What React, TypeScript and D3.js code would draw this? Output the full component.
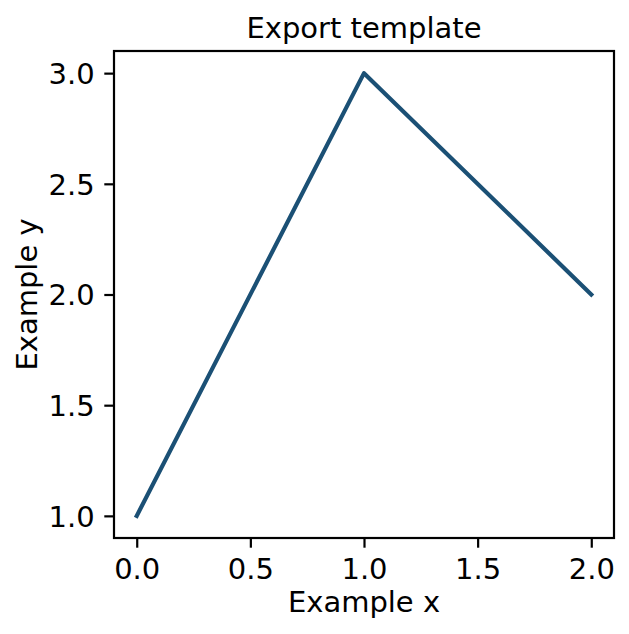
import { useEffect, useRef } from 'react';
import * as d3 from 'd3';

const xValues = [0, 1, 2];
const yValues = [1, 3, 2];
const xTicks = [0, 0.5, 1, 1.5, 2];
const yTicks = [1, 1.5, 2, 2.5, 3];
const title = 'Export template';
const xLabel = 'Example x';
const yLabel = 'Example y';

export default function App() {
    const ref = useRef<SVGSVGElement>(null);

    useEffect(() => {
        if (!ref.current) return;
        const svg = d3.select(ref.current);
        svg.selectAll('*').remove();

        const W = 629;
        const H = 634;
        const margin = { top: 51, right: 15, bottom: 96, left: 114 };
        const width = W - margin.left - margin.right;
        const height = H - margin.top - margin.bottom;
        const font = 'DejaVu Sans, sans-serif';
        const fs = 29;

        svg.attr('width', W).attr('height', H);

        const g = svg.append('g')
            .attr('transform', `translate(${margin.left},${margin.top})`);

        const x = d3.scaleLinear().domain([-0.1, 2.1]).range([0, width]);
        const y = d3.scaleLinear().domain([0.9, 3.1]).range([height, 0]);

        // Axes
        const xAxis = g.append('g')
            .attr('transform', `translate(0,${height})`)
            .call(d3.axisBottom(x).tickValues(xTicks).tickFormat(d3.format('.1f')).tickSize(9.7).tickPadding(9.2).tickSizeOuter(0));
        const yAxis = g.append('g')
            .call(d3.axisLeft(y).tickValues(yTicks).tickFormat(d3.format('.1f')).tickSize(9.7).tickPadding(9.7).tickSizeOuter(0));

        [xAxis, yAxis].forEach(ax => {
            ax.select('.domain').remove();
            ax.selectAll('line').attr('stroke', '#000').attr('stroke-width', 2.2);
            ax.selectAll('text')
                .attr('fill', '#000')
                .style('font-family', font)
                .style('font-size', `${fs}px`);
        });
        xAxis.selectAll('text').attr('dy', '0.76em');
        yAxis.selectAll('text').attr('dy', '0.36em');

        // Line
        const pts = xValues.map((v, i) => [v, yValues[i]] as [number, number]);
        const line = d3.line<[number, number]>()
            .x(d => x(d[0]))
            .y(d => y(d[1]));
        g.append('path')
            .datum(pts)
            .attr('fill', 'none')
            .attr('stroke', '#1b5075')
            .attr('stroke-width', 4.2)
            .attr('stroke-linecap', 'square')
            .attr('stroke-linejoin', 'round')
            .attr('d', line);

        // Frame
        g.append('rect')
            .attr('width', width).attr('height', height)
            .attr('fill', 'none')
            .attr('stroke', '#000')
            .attr('stroke-width', 2.2);

        // Title and labels
        svg.append('text')
            .attr('x', margin.left + width / 2).attr('y', 38)
            .attr('text-anchor', 'middle')
            .style('font-family', font).style('font-size', `${fs}px`)
            .text(title);
        svg.append('text')
            .attr('x', margin.left + width / 2).attr('y', 612)
            .attr('text-anchor', 'middle')
            .style('font-family', font).style('font-size', `${fs}px`)
            .text(xLabel);
        svg.append('text')
            .attr('transform', `translate(37,${margin.top + height / 2}) rotate(-90)`)
            .attr('text-anchor', 'middle')
            .style('font-family', font).style('font-size', `${fs}px`)
            .text(yLabel);
    }, []);

    return (
        <div style={{ position: 'absolute', left: 0, top: 0, background: '#fff' }}>
            <svg ref={ref} style={{ display: 'block' }} />
        </div>
    );
}
